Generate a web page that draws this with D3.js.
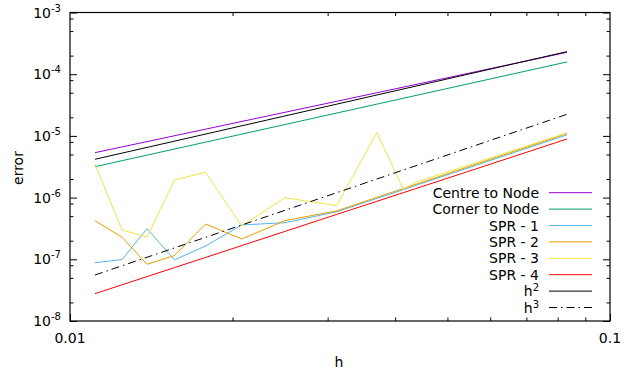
<!DOCTYPE html>
<html>
<head>
<meta charset="utf-8">
<script src="https://cdn.jsdelivr.net/npm/d3@7"></script>
<style>
  body { margin: 0; background: #fff; }
  svg text { font-family: "DejaVu Sans", sans-serif; fill: #000; }
  .axis path { display: none; }
  .axis line { stroke: #000; stroke-width: 1; }
</style>
</head>
<body>
<div id="chart"></div>
<script>
// grid sizes h where the SPR runs were evaluated
var hVals = [0.011125, 0.01248, 0.01389, 0.01561, 0.01782, 0.0208, 0.025, 0.0312, 0.037, 0.0414, 0.0437, 0.08324];
var spr1 = [8.8e-8, 9.9e-8, 3.13e-7, 9.8e-8, 1.64e-7, 3.6e-7, 3.92e-7, 5.9e-7, 9.7e-7, 1.34e-6, 1.58e-6, 1.04e-5];
var spr2 = [4.23e-7, 2.28e-7, 8.3e-8, 1.15e-7, 3.73e-7, 2.13e-7, 4.23e-7, 6.1e-7, 1.01e-6, 1.40e-6, 1.64e-6, 1.09e-5];
var spr3 = [3.51e-6, 2.99e-7, 2.28e-7, 1.93e-6, 2.57e-6, 3.47e-7, 9.95e-7, 7.4e-7, 1.14e-5, 1.38e-6, 1.77e-6, 1.12e-5];
var spr4 = [2.77e-8, 3.86e-8, 5.24e-8, 7.33e-8, 1.07e-7, 1.67e-7, 2.83e-7, 5.35e-7, 8.7e-7, 1.20e-6, 1.40e-6, 8.9e-6];

// straight reference curves, end points only
var hEnds = [0.011125, 0.08324];
var centreNode = [5.35e-6, 2.26e-4];
var cornerNode = [3.17e-6, 1.58e-4];
var hSquared = [4.18e-6, 2.32e-4];
var hCubed = [5.57e-8, 2.24e-5];

var yMajor = [1e-8, 1e-7, 1e-6, 1e-5, 1e-4, 1e-3];
var yExp = [-8, -7, -6, -5, -4, -3];
var xMajor = [0.01, 0.1];
var xMajorLabels = ['0.01', '0.1'];

var series = [
  { name: 'Centre to Node', sup: '', h: hEnds, v: centreNode, color: '#9400d3', dash: null },
  { name: 'Corner to Node', sup: '', h: hEnds, v: cornerNode, color: '#009e73', dash: null },
  { name: 'SPR - 1', sup: '', h: hVals, v: spr1, color: '#56b4e9', dash: null },
  { name: 'SPR - 2', sup: '', h: hVals, v: spr2, color: '#e69f00', dash: null },
  { name: 'SPR - 3', sup: '', h: hVals, v: spr3, color: '#f0e442', dash: null },
  { name: 'SPR - 4', sup: '', h: hVals, v: spr4, color: '#ff0000', dash: null },
  { name: 'h', sup: '2', h: hEnds, v: hSquared, color: '#000000', dash: null },
  { name: 'h', sup: '3', h: hEnds, v: hCubed, color: '#000000', dash: '8,4,1.5,4' }
];

var size = { width: 634, height: 376 };
var plot = { left: 70, right: 610, top: 12.5, bottom: 321 };

var x = d3.scaleLog().domain([0.01, 0.1]).range([plot.left, plot.right]);
var y = d3.scaleLog().domain([1e-8, 1e-3]).range([plot.bottom, plot.top]);

var svg = d3.select('#chart').append('svg')
  .attr('width', size.width)
  .attr('height', size.height);

// minor ticks
var xMinor = [];
for (var i = 2; i <= 9; i++) xMinor.push(i / 100);
var yMinor = [];
yMajor.slice(0, -1).forEach(function (d) { [2, 5, 8].forEach(function (m) { yMinor.push(d * m); }); });

function addAxis(axis, tx, ty) {
  svg.append('g')
    .attr('class', 'axis')
    .attr('transform', `translate(${tx}, ${ty})`)
    .call(axis);
}

// inward ticks, mirrored on all four sides
addAxis(d3.axisBottom(x).tickValues(xMinor).tickSize(-3.5).tickFormat(''), 0, plot.bottom);
addAxis(d3.axisTop(x).tickValues(xMinor).tickSize(-3.5).tickFormat(''), 0, plot.top);
addAxis(d3.axisBottom(x).tickValues(xMajor).tickSize(-7).tickFormat(''), 0, plot.bottom);
addAxis(d3.axisLeft(y).tickValues(yMinor).tickSize(-3.5).tickFormat(''), plot.left, 0);
addAxis(d3.axisRight(y).tickValues(yMinor).tickSize(-3.5).tickFormat(''), plot.right, 0);
addAxis(d3.axisLeft(y).tickValues(yMajor).tickSize(-7).tickFormat(''), plot.left, 0);
addAxis(d3.axisRight(y).tickValues(yMajor).tickSize(-7).tickFormat(''), plot.right, 0);

// frame
svg.append('rect')
  .attr('x', plot.left).attr('y', plot.top)
  .attr('width', plot.right - plot.left).attr('height', plot.bottom - plot.top)
  .attr('fill', 'none').attr('stroke', '#000').attr('stroke-width', 1.2);

// y tick labels 10^n
yMajor.forEach(function (d, i) {
  var t = svg.append('text')
    .attr('x', plot.left - 9)
    .attr('y', y(d) + 5)
    .attr('text-anchor', 'end')
    .style('font-size', '14px');
  t.append('tspan').text('10');
  t.append('tspan').attr('dy', -6).style('font-size', '10px').text(yExp[i]);
});

// x tick labels
xMajor.forEach(function (d, i) {
  svg.append('text')
    .attr('x', x(d))
    .attr('y', 343)
    .attr('text-anchor', 'middle')
    .style('font-size', '14px')
    .text(xMajorLabels[i]);
});

svg.append('text')
  .attr('transform', 'translate(23, 168) rotate(-90)')
  .attr('text-anchor', 'middle')
  .style('font-size', '14px')
  .text('error');

svg.append('text')
  .attr('x', 339).attr('y', 367)
  .attr('text-anchor', 'middle')
  .style('font-size', '14px')
  .text('h');

var line = d3.line()
  .x(d => x(d[0]))
  .y(d => y(d[1]));

series.forEach(function (s) {
  svg.append('path')
    .datum(d3.zip(s.h, s.v))
    .attr('d', line)
    .attr('fill', 'none')
    .attr('stroke', s.color)
    .attr('stroke-width', 1)
    .attr('stroke-dasharray', s.dash);
});

// legend
var legend = svg.append('g');
series.forEach(function (s, i) {
  var ly = 192.7 + i * 16.4;
  var t = legend.append('text')
    .attr('x', 539)
    .attr('y', ly + 5)
    .attr('text-anchor', 'end')
    .style('font-size', '14px');
  t.append('tspan').text(s.name);
  if (s.sup) t.append('tspan').attr('dy', -5).style('font-size', '10px').text(s.sup);
  legend.append('line')
    .attr('x1', 549).attr('x2', 592)
    .attr('y1', ly).attr('y2', ly)
    .attr('stroke', s.color)
    .attr('stroke-width', 1)
    .attr('stroke-dasharray', s.dash);
});
</script>
</body>
</html>
